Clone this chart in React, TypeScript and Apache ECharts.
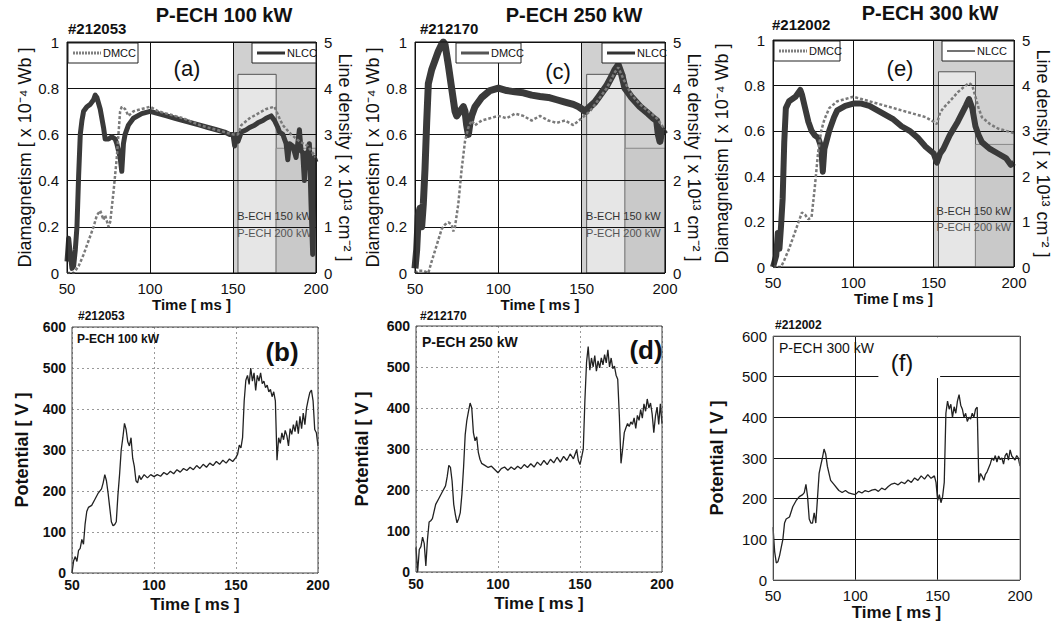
import { useEffect, useRef } from 'react';
import * as echarts from 'echarts';

const FONT = '"Liberation Sans", Arial, Helvetica, sans-serif';

// ---------- data ----------
const topTitles = ['P-ECH 100 kW', 'P-ECH 250 kW', 'P-ECH 300 kW'];
const shotNumbers = ['#212053', '#212170', '#212002'];
const topTags = ['(a)', '(c)', '(e)'];
const bottomTags = ['(b)', '(d)', '(f)'];
const bottomPower = ['P-ECH 100 kW', 'P-ECH 250 kW', 'P-ECH 300 kW'];
const bechWindow = [150, 200];
const pechWindow = [153, 176];
const bechLabel = 'B-ECH 150 kW';
const pechLabel = 'P-ECH 200 kW';

// line density NLCC [x10^13 cm^-2]
const nlccA: number[][] = [[50,0.25],[51,0.75],[52,0.4],[53,0.1],[54,0.15],[55,0.5],[56,1.0],[57,2.1],[58,3.0],[59,3.3],[60,3.5],[62,3.6],[64,3.65],[66,3.75],[67,3.85],[68,3.8],[70,3.55],[72,3.15],[73,2.9],[75,2.9],[77,2.95],[79,2.9],[80,2.8],[81,2.65],[82,2.5],[83,2.2],[84,2.8],[85,3.0],[87,3.2],[90,3.35],[95,3.45],[100,3.5],[105,3.45],[110,3.4],[115,3.35],[120,3.3],[125,3.25],[130,3.2],[135,3.15],[140,3.1],[145,3.05],[148,3.0],[150,3.0],[151,2.75],[152,3.0],[153,2.85],[155,3.05],[158,3.1],[160,3.15],[163,3.2],[165,3.25],[168,3.3],[170,3.35],[173,3.4],[175,3.3],[177,3.15],[178,3.05],[180,3.0],[182,2.8],[183,2.45],[184,2.8],[186,2.75],[188,2.5],[189,2.8],[190,3.1],[191,2.65],[192,2.6],[193,2.0],[194,2.6],[195,2.5],[196,2.8],[197,1.5],[198,0.4],[199,2.5],[200,2.4]];
const nlccC: number[][] = [[50,0.1],[51,0.5],[52,1.25],[53,1.4],[54,1.0],[55,1.5],[56,2.25],[57,3.25],[58,4.1],[60,4.4],[62,4.6],[64,4.8],[66,4.95],[67,5.0],[68,4.95],[70,4.5],[72,4.0],[74,3.5],[75,3.4],[77,3.5],[79,3.6],[80,3.5],[81,3.2],[82,3.0],[83,3.25],[84,3.4],[86,3.6],[90,3.8],[95,3.95],[100,4.0],[105,3.95],[110,3.92],[115,3.9],[120,3.85],[125,3.82],[130,3.8],[135,3.75],[140,3.7],[145,3.65],[148,3.6],[150,3.55],[152,3.5],[155,3.6],[158,3.7],[160,3.8],[163,3.95],[165,4.05],[168,4.25],[170,4.4],[172,4.5],[174,4.3],[176,4.0],[178,3.9],[180,3.8],[185,3.6],[190,3.45],[193,3.35],[195,3.3],[196,3.0],[197,2.85],[198,3.1],[200,3.0]];
const nlccE: number[][] = [[50,0],[52,0.25],[53,0.75],[54,0.4],[55,0.9],[56,1.5],[57,2.75],[58,3.5],[60,3.65],[62,3.7],[64,3.75],[66,3.85],[67,3.9],[68,3.8],[70,3.5],[72,3.2],[74,3.0],[76,2.9],[78,2.85],[80,2.65],[81,2.1],[82,2.6],[85,3.0],[88,3.3],[90,3.45],[95,3.55],[100,3.6],[105,3.6],[110,3.55],[115,3.45],[120,3.35],[125,3.25],[130,3.1],[135,3.0],[140,2.85],[145,2.65],[150,2.5],[152,2.3],[154,2.5],[156,2.6],[160,2.9],[165,3.2],[170,3.55],[172,3.7],[174,3.5],[176,3.1],[178,2.9],[180,2.75],[185,2.6],[190,2.5],[195,2.4],[198,2.25],[200,2.3]];

// diamagnetism DMCC [x10^-4 Wb]
const dmccA: number[][] = [[50,0],[54,0],[55,0.01],[57,0.03],[60,0.08],[63,0.14],[66,0.2],[68,0.25],[70,0.27],[72,0.23],[73,0.25],[75,0.2],[76,0.22],[78,0.35],[80,0.5],[81,0.6],[82,0.7],[83,0.72],[85,0.71],[87,0.68],[90,0.7],[95,0.71],[100,0.72],[105,0.7],[110,0.69],[120,0.67],[130,0.64],[140,0.62],[150,0.6],[153,0.6],[155,0.64],[160,0.67],[165,0.69],[170,0.71],[175,0.72],[178,0.67],[180,0.64],[185,0.6],[190,0.57],[195,0.55],[200,0.5]];
const dmccC: number[][] = [[50,0],[52,0.01],[55,0.01],[58,0],[60,0.05],[63,0.12],[66,0.19],[68,0.21],[70,0.22],[72,0.21],[73,0.18],[74,0.2],[76,0.3],[78,0.45],[80,0.57],[82,0.63],[84,0.66],[86,0.64],[88,0.65],[90,0.66],[95,0.67],[100,0.68],[105,0.67],[110,0.69],[115,0.68],[120,0.66],[125,0.68],[130,0.66],[135,0.65],[140,0.66],[145,0.64],[150,0.67],[155,0.7],[160,0.75],[165,0.8],[170,0.87],[172,0.89],[175,0.84],[180,0.77],[185,0.73],[190,0.7],[195,0.67],[200,0.62]];
const dmccE: number[][] = [[50,0],[55,0],[57,0.03],[60,0.08],[63,0.14],[66,0.2],[68,0.24],[70,0.23],[72,0.21],[74,0.22],[76,0.35],[78,0.5],[80,0.6],[82,0.65],[85,0.7],[90,0.73],[95,0.74],[100,0.75],[105,0.74],[110,0.73],[115,0.72],[120,0.71],[125,0.7],[130,0.69],[135,0.68],[140,0.67],[145,0.66],[150,0.64],[152,0.63],[154,0.68],[156,0.7],[160,0.73],[165,0.77],[170,0.8],[172,0.81],[174,0.8],[176,0.75],[178,0.7],[180,0.66],[185,0.63],[190,0.61],[195,0.6],[200,0.59]];

// potential [V]
const potB: number[][] = [[50,0],[51,30],[52,40],[53,28],[54,55],[55,60],[56,82],[57,70],[58,120],[59,150],[60,160],[62,165],[64,180],[66,195],[68,205],[69,220],[70,240],[71,225],[72,195],[73,160],[74,125],[75,115],[76,118],[77,125],[78,190],[79,240],[80,300],[81,330],[82,365],[83,350],[84,320],[85,310],[86,330],[87,280],[88,260],[89,225],[90,220],[91,238],[92,228],[94,240],[96,232],[98,240],[100,235],[102,240],[104,236],[106,245],[108,240],[110,248],[112,242],[114,252],[116,246],[118,255],[120,250],[122,258],[124,252],[126,262],[128,255],[130,265],[132,258],[134,268],[136,262],[138,272],[140,265],[142,275],[144,268],[146,278],[148,272],[150,282],[151,290],[152,312],[153,305],[154,330],[155,420],[156,470],[157,482],[158,460],[159,500],[160,468],[161,488],[162,445],[163,482],[164,468],[165,488],[166,462],[167,468],[168,452],[169,458],[170,442],[171,448],[172,430],[173,442],[174,420],[175,275],[176,330],[177,316],[178,342],[179,325],[180,348],[181,335],[182,310],[183,352],[184,338],[185,362],[186,345],[187,372],[188,340],[189,382],[190,352],[191,390],[192,362],[193,402],[194,422],[195,440],[196,446],[197,420],[198,350],[199,342],[200,310]];
const potD: number[][] = [[50,60],[51,0],[52,55],[53,62],[54,85],[55,70],[56,15],[57,80],[58,122],[59,125],[60,130],[62,165],[64,180],[66,195],[68,210],[69,232],[70,260],[71,255],[72,222],[73,165],[74,140],[75,120],[76,130],[77,145],[78,190],[79,255],[80,335],[81,370],[82,392],[83,412],[84,400],[85,340],[86,320],[87,330],[88,292],[89,275],[90,265],[92,260],[94,255],[96,258],[98,250],[100,242],[102,252],[104,256],[106,248],[108,256],[110,250],[112,258],[114,252],[116,262],[118,255],[120,264],[122,256],[124,268],[126,260],[128,272],[130,262],[132,275],[134,266],[136,280],[138,268],[140,282],[142,272],[144,288],[146,276],[148,298],[149,272],[150,262],[151,280],[152,300],[153,420],[154,512],[155,550],[156,492],[157,522],[158,500],[159,528],[160,490],[161,515],[162,498],[163,522],[164,505],[165,530],[166,510],[167,542],[168,500],[169,522],[170,496],[171,502],[172,480],[173,470],[174,380],[175,265],[176,300],[177,340],[178,352],[179,362],[180,355],[181,366],[182,360],[183,376],[184,350],[185,382],[186,370],[187,396],[188,375],[189,410],[190,392],[191,422],[192,400],[193,412],[194,385],[195,340],[196,380],[197,402],[198,360],[199,410],[200,362]];
const potF: number[][] = [[50,130],[51,70],[52,42],[53,45],[54,60],[55,80],[56,100],[57,140],[58,150],[60,155],[62,180],[64,195],[66,205],[68,210],[69,215],[70,235],[71,205],[72,150],[73,140],[74,140],[75,165],[76,140],[77,200],[78,262],[79,282],[80,300],[81,322],[82,310],[83,280],[84,262],[85,245],[87,235],[89,225],[90,220],[92,215],[94,220],[96,214],[98,212],[100,210],[102,218],[104,214],[106,220],[108,217],[110,221],[112,223],[114,218],[116,226],[118,222],[120,230],[122,236],[124,238],[126,234],[128,241],[130,237],[132,246],[134,240],[136,251],[138,245],[140,256],[142,248],[144,259],[146,250],[148,256],[149,240],[150,195],[151,210],[152,190],[153,205],[154,240],[155,410],[156,440],[157,420],[158,432],[159,400],[160,426],[161,410],[162,440],[163,456],[164,430],[165,420],[166,400],[167,410],[168,390],[169,400],[170,396],[171,410],[172,400],[173,420],[174,425],[175,240],[176,262],[177,255],[178,245],[179,260],[180,266],[181,276],[182,286],[183,300],[184,294],[185,306],[186,290],[187,305],[188,296],[189,300],[190,285],[191,306],[192,312],[193,295],[194,320],[195,305],[196,300],[197,295],[198,306],[199,300],[200,280]];

const DIA_NAME = 'Diamagnetism [ x 10\u207B\u2074 Wb ]';
const LD_NAME = 'Line density [ x 10\u00B9\u00B3 cm\u207B\u00B2 ]';
const POT_NAME = 'Potential [ V ]';
const TIME_NAME = 'Time [ ms ]';

function buildOption() {
  const grids = [
    { left: 67, top: 42, width: 249, height: 231 },
    { left: 415, top: 42, width: 250, height: 231 },
    { left: 773, top: 40, width: 241, height: 227 },
    { left: 72, top: 327, width: 246, height: 246 },
    { left: 416, top: 326, width: 246, height: 246 },
    { left: 773, top: 336, width: 247, height: 244 },
  ];
  const gridOpts = grids.map((g, i) => ({
    ...g,
    show: true,
    z: 4,
    backgroundColor: 'transparent',
    borderColor: i < 3 ? '#111' : i < 5 ? '#444' : '#888',
    borderWidth: 1,
  }));

  const xAxis: any[] = [];
  const yAxis: any[] = [];
  const series: any[] = [];

  const tops = [
    { dm: dmccA, nl: nlccA, w: 5, lg: 27, rg: 17, xg: 23, lm: 8 },
    { dm: dmccC, nl: nlccC, w: 7, lg: 29, rg: 14, xg: 23, lm: 8 },
    { dm: dmccE, nl: nlccE, w: 6, lg: 42, rg: 16, xg: 23, lm: 8 },
  ];
  const txt = { fontFamily: FONT, color: '#111' };
  tops.forEach((p, k) => {
    xAxis.push({
      gridIndex: k, type: 'value', min: 50, max: 200, interval: 50, z: 2,
      name: TIME_NAME, nameLocation: 'middle', nameGap: p.xg,
      nameTextStyle: { ...txt, fontSize: 15, fontWeight: 'bold' },
      axisLine: { show: false }, axisTick: { show: false },
      axisLabel: { ...txt, fontSize: 15, margin: p.lm },
      splitLine: { show: true, lineStyle: { color: '#111', width: 1 } },
    });
    yAxis.push({
      gridIndex: k, type: 'value', min: 0, max: 1, interval: 0.2, position: 'left', z: 2,
      name: DIA_NAME, nameLocation: 'middle', nameGap: p.lg,
      nameTextStyle: { ...txt, fontSize: 18 },
      axisLine: { show: false }, axisTick: { show: false },
      axisLabel: { ...txt, fontSize: 15, margin: 8 },
      splitLine: { show: true, lineStyle: { color: '#111', width: 1 } },
    });
    yAxis.push({
      gridIndex: k, type: 'value', min: 0, max: 5, interval: 1, position: 'right', z: 2,
      name: LD_NAME, nameLocation: 'middle', nameGap: p.rg, nameRotate: -90,
      nameTextStyle: { ...txt, fontSize: 18 },
      axisLine: { show: false }, axisTick: { show: false },
      axisLabel: { ...txt, fontSize: 15, margin: 8 },
      splitLine: { show: false },
    });
    series.push({
      type: 'line', name: 'NLCC', xAxisIndex: k, yAxisIndex: 2 * k + 1, data: p.nl,
      symbol: 'none', z: 3, lineStyle: { color: '#3a3a3a', width: p.w, join: 'round' },
    });
    series.push({
      type: 'line', name: 'DMCC', xAxisIndex: k, yAxisIndex: 2 * k, data: p.dm,
      symbol: 'none', z: 3, lineStyle: { color: '#7a7a7a', width: 2.5, type: [3, 2] },
      markArea: {
        silent: true,
        data: [
          [{ xAxis: bechWindow[0], yAxis: 0, itemStyle: { color: '#d0d0d0' } }, { xAxis: bechWindow[1], yAxis: 1 }],
          [{ xAxis: pechWindow[0], yAxis: 0, itemStyle: { color: '#e6e6e6', borderColor: '#555', borderWidth: 1 } }, { xAxis: pechWindow[1], yAxis: 0.86 }],
          [{ xAxis: pechWindow[1], yAxis: 0, itemStyle: { color: '#c9c9c9', borderColor: '#888', borderWidth: 1 } }, { xAxis: bechWindow[1], yAxis: 0.54 }],
          [{ xAxis: 151, yAxis: 0.21, name: bechLabel, itemStyle: { color: 'rgba(0,0,0,0)', borderWidth: 0 },
             label: { show: true, position: 'inside', fontFamily: FONT, fontSize: 11, color: '#333' } }, { xAxis: 199, yAxis: 0.28 }],
          [{ xAxis: 151, yAxis: 0.14, name: pechLabel, itemStyle: { color: 'rgba(0,0,0,0)', borderWidth: 0 },
             label: { show: true, position: 'inside', fontFamily: FONT, fontSize: 11, color: '#555' } }, { xAxis: 199, yAxis: 0.21 }],
        ],
      },
    });
  });

  const bots = [
    { data: potB, bold: true, solid: false, lg: 41, xg: 23, lm: 5, fs: 14 },
    { data: potD, bold: true, solid: false, lg: 45, xg: 23, lm: 5, fs: 14 },
    { data: potF, bold: false, solid: true, lg: 47, xg: 24, lm: 8, fs: 15 },
  ];
  bots.forEach((p, j) => {
    const gi = 3 + j;
    const split = p.solid
      ? { show: true, lineStyle: { color: '#111', width: 1 } }
      : { show: true, lineStyle: { color: '#999', width: 1, type: [2, 3] } };
    xAxis.push({
      gridIndex: gi, type: 'value', min: 50, max: 200, interval: 50, z: 2,
      name: TIME_NAME, nameLocation: 'middle', nameGap: p.xg,
      nameTextStyle: { ...txt, fontSize: 17, fontWeight: 'bold' },
      axisLine: { show: false }, axisTick: { show: false },
      axisLabel: { ...txt, fontSize: p.fs, fontWeight: p.bold ? 'bold' : 'normal', margin: p.lm },
      splitLine: split,
    });
    yAxis.push({
      gridIndex: gi, type: 'value', min: 0, max: 600, interval: 100, z: 2,
      name: POT_NAME, nameLocation: 'middle', nameGap: p.lg,
      nameTextStyle: { ...txt, fontSize: 18, fontWeight: 'bold' },
      axisLine: { show: false }, axisTick: { show: false },
      axisLabel: { ...txt, fontSize: p.fs, fontWeight: p.bold ? 'bold' : 'normal', margin: 6 },
      splitLine: split,
    });
    const s: any = {
      type: 'line', name: 'Potential', xAxisIndex: gi, yAxisIndex: 6 + j, data: p.data,
      symbol: 'none', z: 3, lineStyle: { color: '#222', width: 1.3 },
    };
    if (p.solid) {
      s.markArea = {
        silent: true, z: 2.5,
        data: [[{ xAxis: 114, yAxis: 497, itemStyle: { color: '#fff' } }, { xAxis: 151.5, yAxis: 597 }]],
      };
    }
    series.push(s);
  });

  const legendBox = (x: number, y: number, w: number, label: string, stroke: string, lw: number, dash: any) => [
    { type: 'rect', z: 10, shape: { x, y, width: w, height: 20 }, style: { fill: '#fff', stroke: '#222', lineWidth: 1 } },
    { type: 'line', z: 11, shape: { x1: x + 5, y1: y + 10, x2: x + 33, y2: y + 10 }, style: { stroke, lineWidth: lw, lineDash: dash || undefined } },
    { type: 'text', z: 11, x: x + 35, y: y + 10, style: { text: label, fontFamily: FONT, fontSize: 11, fill: '#111', align: 'left', verticalAlign: 'middle' } },
  ];
  const t = (text: string, x: number, y: number, size: number, bold: boolean, align = 'center') => ({
    type: 'text', x, y, z: 10,
    style: { text, fontFamily: FONT, fontSize: size, fontWeight: bold ? 'bold' : 'normal', fill: '#111', align, verticalAlign: 'middle' },
  });

  const elements: any[] = [
    t(topTitles[0], 224, 15, 20, true), t(topTitles[1], 574, 15, 20, true), t(topTitles[2], 930, 13, 20, true),
    t(shotNumbers[0], 68, 28, 15, true, 'left'), t(shotNumbers[1], 420, 28, 15, true, 'left'), t(shotNumbers[2], 772, 24, 15, true, 'left'),
    t(topTags[0], 187, 68, 22, false), t(topTags[1], 558, 71, 22, false), t(topTags[2], 900, 68, 22, false),
    t(shotNumbers[0], 78, 316, 12, true, 'left'), t(shotNumbers[1], 420, 316, 12, true, 'left'), t(shotNumbers[2], 775, 325, 12, true, 'left'),
    t(bottomPower[0], 77, 339, 12, true, 'left'), t(bottomPower[1], 422, 342, 14, true, 'left'), t(bottomPower[2], 779, 348, 14, false, 'left'),
    t(bottomTags[0], 282, 352, 26, true), t(bottomTags[1], 646, 350, 26, true), t(bottomTags[2], 902, 362, 24, false),
    ...legendBox(68, 43, 70, 'DMCC', '#808080', 3, [2, 1]),
    ...legendBox(252, 43, 64, 'NLCC', '#333', 3, null),
    ...legendBox(456, 43, 65, 'DMCC', '#555', 3, null),
    ...legendBox(602, 43, 63, 'NLCC', '#333', 3, null),
    ...legendBox(774, 41, 66, 'DMCC', '#808080', 3, [2, 1]),
    ...legendBox(942, 41, 72, 'NLCC', '#444', 1.5, null),
  ];

  return {
    animation: false,
    backgroundColor: '#fff',
    grid: gridOpts,
    xAxis,
    yAxis,
    series,
    graphic: { elements },
  };
}

export default function App() {
  const ref = useRef<HTMLDivElement>(null);
  useEffect(() => {
    const chart = echarts.init(ref.current!, null, { renderer: 'svg' });
    chart.setOption(buildOption() as any);
    return () => chart.dispose();
  }, []);
  return (
    <div
      ref={ref}
      style={{ position: 'fixed', left: 0, top: 0, width: 1064, height: 625, background: '#fff' }}
    />
  );
}
